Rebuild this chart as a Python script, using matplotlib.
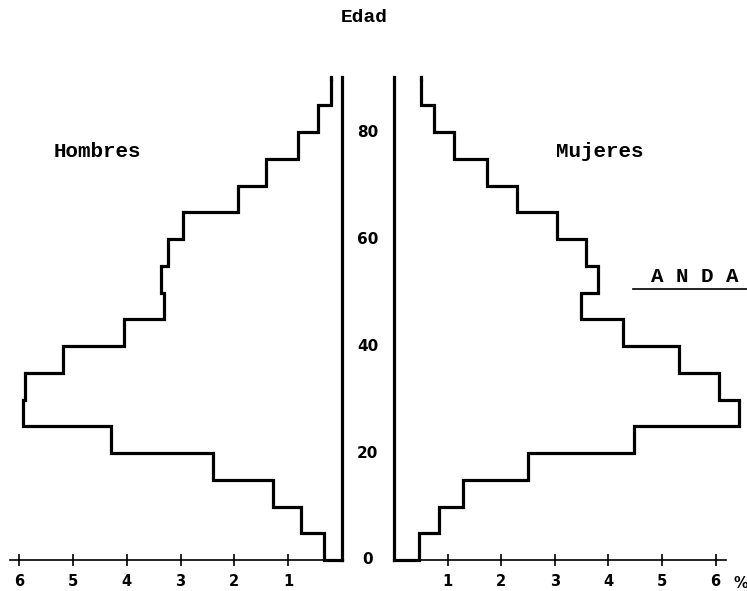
import numpy as np
import matplotlib
matplotlib.use("Agg")
import matplotlib.pyplot as plt
from matplotlib.lines import Line2D

# Age groups (5-year bands, 0 to 90)
age_edges = np.arange(0, 95, 5)
age_ticks = [0, 20, 40, 60, 80]

# Percentage of the population in each age band
hombres = [0.33, 0.76, 1.28, 2.40, 4.29, 5.93, 5.89, 5.19, 4.05,
           3.31, 3.36, 3.23, 2.96, 1.93, 1.41, 0.82, 0.45, 0.20]
mujeres = [0.47, 0.84, 1.29, 2.50, 4.48, 6.44, 6.06, 5.32, 4.27,
           3.49, 3.81, 3.58, 3.04, 2.29, 1.74, 1.12, 0.75, 0.50]

pct_ticks = [1, 2, 3, 4, 5, 6]
pct_labels = ["1", "2", "3", "4", "5", "6"]

W, H = 747, 591
fig = plt.figure(figsize=(W / 100, H / 100), dpi=100)
fig.patch.set_facecolor("white")


def rect(x0, top, x1, bottom):
    return [x0 / W, 1 - bottom / H, (x1 - x0) / W, (bottom - top) / H]


ax_h = fig.add_axes(rect(4, 52, 342, 560))
ax_m = fig.add_axes(rect(394, 52, 746, 560))

ax_h.set_xlim(338 / 53.8, 0)
ax_m.set_xlim(0, 352 / 53.6)
for ax in (ax_h, ax_m):
    ax.set_ylim(0, 95)
    ax.patch.set_visible(False)

outline = dict(color="black", lw=2.3, solid_joinstyle="miter", clip_on=False)

for ax, vals, axis_end in ((ax_h, hombres, 6.17), (ax_m, mujeres, 6.19)):
    # stepped profile of the pyramid half
    ax.stairs(vals, age_edges, orientation="horizontal", baseline=None,
              fill=False, edgecolor="black", linewidth=2.3, clip_on=False)
    ax.plot([0, vals[0]], [0, 0], **outline)
    ax.plot([vals[-1], vals[-1]], [90, 90.3], **outline)
    # central vertical axis line
    ax.plot([0, 0], [0, 90.4], **outline)

    for s in ("top", "left", "right"):
        ax.spines[s].set_visible(False)
    ax.spines["bottom"].set_bounds(0, axis_end)
    ax.spines["bottom"].set_linewidth(1.2)
    ax.set_yticks([])
    ax.set_xticks(pct_ticks)
    ax.set_xticklabels(pct_labels, fontweight="bold", fontsize=10.5,
                       family="DejaVu Sans")
    ax.tick_params(axis="x", direction="inout", length=8, width=1.2, pad=6)

# Age scale between the two halves
for a in age_ticks:
    ax_m.text(-0.49, a, str(a), ha="center", va="center", fontsize=11,
              fontweight="bold", family="DejaVu Sans", clip_on=False)

mono = dict(family="Liberation Mono", fontweight="bold", color="black")
fig.text(364 / W, 1 - 17 / H, "Edad", ha="center", va="center",
         fontsize=14, **mono)
fig.text(97 / W, 1 - 151 / H, "Hombres", ha="center", va="center",
         fontsize=15, **mono)
fig.text(600 / W, 1 - 151 / H, "Mujeres", ha="center", va="center",
         fontsize=15, **mono)
fig.text(695 / W, 1 - 277 / H, "A N D A", ha="center", va="center",
         fontsize=15, **mono)
fig.add_artist(Line2D([633 / W, 1.0], [1 - 289 / H, 1 - 289 / H],
                      transform=fig.transFigure, color="black", lw=1.2))
fig.text(741 / W, 1 - 583 / H, "%", ha="center", va="center",
         fontsize=10.5, fontweight="bold", family="DejaVu Sans")

fig.savefig("out.png", dpi=100, facecolor="white")
